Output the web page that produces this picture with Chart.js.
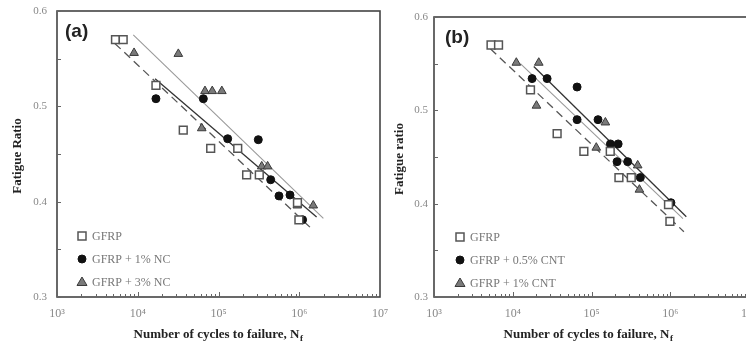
<!DOCTYPE html>
<html>
<head>
<meta charset="utf-8">
<script src="https://cdn.jsdelivr.net/npm/chart.js@4.4.0/dist/chart.umd.min.js"></script>
<style>
  html, body { margin: 0; padding: 0; background: #fff; width: 746px; height: 346px; overflow: hidden; }
  .panel { position: absolute; top: 0; }
</style>
</head>
<body>
<canvas id="chart-a" class="panel" width="390" height="346" style="left:0;width:390px;height:346px"></canvas>
<canvas id="chart-b" class="panel" width="380" height="346" style="left:380px;width:380px;height:346px"></canvas>
<script>
// axis ticks
const X_TICKS = [1e3, 1e4, 1e5, 1e6, 1e7];
const X_TICK_LABELS = ['10³', '10⁴', '10⁵', '10⁶', '10⁷'];
const Y_TICKS = [0.3, 0.4, 0.5, 0.6];

// GFRP (same specimens in both panels)
const GFRP_N = [5300, 6600, 16800, 36600, 80000, 173000, 223000, 320000, 950000, 990000];
const GFRP_R = [0.570, 0.570, 0.522, 0.475, 0.456, 0.456, 0.428, 0.428, 0.399, 0.381];
const GFRP_FIT_N = [5200, 1490000];
const GFRP_FIT_R = [0.566, 0.370];

// panel (a): nanoclay
const NC1_N = [16800, 64900, 130000, 311000, 443000, 561000, 768000, 1100000];
const NC1_R = [0.508, 0.508, 0.466, 0.465, 0.423, 0.406, 0.407, 0.381];
const NC3_N = [9000, 31800, 62000, 68000, 83700, 110000, 343000, 406000, 946000, 1490000];
const NC3_R = [0.556, 0.555, 0.477, 0.516, 0.516, 0.516, 0.437, 0.437, 0.396, 0.396];
const NC1_FIT_N = [16400, 1640000];
const NC1_FIT_R = [0.529, 0.384];
const NC3_FIT_N = [8800, 1990000];
const NC3_FIT_R = [0.575, 0.3825];

// panel (b): carbon nanotubes
const CNT05_N = [17600, 27300, 65600, 65600, 121000, 174000, 218000, 211000, 288000, 417000, 1020000];
const CNT05_R = [0.534, 0.534, 0.525, 0.490, 0.490, 0.464, 0.464, 0.445, 0.445, 0.428, 0.401];
const CNT1_N = [11100, 21400, 20000, 115000, 150000, 386000, 406000];
const CNT1_R = [0.551, 0.551, 0.505, 0.460, 0.487, 0.441, 0.415];
const CNT05_FIT_N = [18500, 1600000];
const CNT05_FIT_R = [0.547, 0.386];
const CNT1_FIT_N = [12500, 1450000];
const CNT1_FIT_R = [0.550, 0.384];

const LEGEND_A = ['GFRP', 'GFRP + 1% NC', 'GFRP + 3% NC'];
const LEGEND_B = ['GFRP', 'GFRP + 0.5% CNT', 'GFRP + 1% CNT'];

const SERIF = '"Liberation Serif", "DejaVu Serif", serif';
const STYLE = {
  square:   { pointStyle: 'rect',     pointRadius: 5.5, backgroundColor: '#ffffff', borderColor: '#555', borderWidth: 1.5 },
  circle:   { pointStyle: 'circle',   pointRadius: 4,   backgroundColor: '#111111', borderColor: '#111', borderWidth: 1 },
  triangle: { pointStyle: 'triangle', pointRadius: 5,   backgroundColor: '#7a7a7a', borderColor: '#3a3a3a', borderWidth: 1 }
};

const zip = (xs, ys) => xs.map((x, i) => ({ x, y: ys[i] }));

function pts(xs, ys, kind) {
  const s = STYLE[kind];
  return { data: zip(xs, ys), showLine: false, ...s, pointHoverRadius: s.pointRadius };
}
function fit(xs, ys, color, dash, width) {
  return { data: zip(xs, ys), showLine: true, borderColor: color, borderWidth: width || 1.3,
           borderDash: dash || [], pointRadius: 0, fill: false };
}

function drawMarker(ctx, kind, x, y) {
  const s = STYLE[kind];
  ctx.save();
  ctx.fillStyle = s.backgroundColor; ctx.strokeStyle = s.borderColor; ctx.lineWidth = s.borderWidth;
  ctx.beginPath();
  if (kind === 'square') { const h = 4; ctx.rect(x - h, y - h, 2 * h, 2 * h); }
  else if (kind === 'circle') { ctx.arc(x, y, 4, 0, Math.PI * 2); }
  else { ctx.moveTo(x, y - 5); ctx.lineTo(x + 5, y + 3.5); ctx.lineTo(x - 5, y + 3.5); ctx.closePath(); }
  ctx.fill(); ctx.stroke();
  ctx.restore();
}

function panelPlugin(p) {
  return {
    id: 'panelDecor',
    afterDraw(chart) {
      const { ctx, chartArea: a, scales: { x, y } } = chart;
      ctx.save();
      // frame
      ctx.strokeStyle = '#444'; ctx.lineWidth = 1.6;
      ctx.strokeRect(a.left, a.top, a.right - a.left, a.bottom - a.top);
      // inward ticks
      ctx.strokeStyle = '#666'; ctx.lineWidth = 1;
      ctx.beginPath();
      for (let v = 0.3; v <= 0.6001; v += 0.05) {
        const py = Math.round(y.getPixelForValue(v)) + 0.5;
        ctx.moveTo(a.left, py); ctx.lineTo(a.left + 4, py);
      }
      for (let d = 3; d < 7; d++) {
        for (let m = 1; m <= 9; m++) {
          const px = Math.round(x.getPixelForValue(m * Math.pow(10, d))) + 0.5;
          const len = m === 1 ? 5 : 3;
          ctx.moveTo(px, a.bottom); ctx.lineTo(px, a.bottom - len);
        }
      }
      ctx.stroke();
      // panel label
      ctx.fillStyle = '#222';
      ctx.font = 'bold 19px "Liberation Sans", Arial, sans-serif';
      ctx.textBaseline = 'middle'; ctx.textAlign = 'left';
      ctx.fillText(p.tag, p.tagX, p.tagY);
      // legend
      ctx.font = '12px ' + SERIF;
      ['square', 'circle', 'triangle'].forEach((k, i) => {
        const ly = p.legY + i * 23;
        drawMarker(ctx, k, p.legX, ly);
        ctx.fillStyle = '#777';
        ctx.fillText(p.legend[i], p.legX + 10, ly + 1);
      });
      // y title
      ctx.save();
      ctx.translate(p.yTitleX, (a.top + a.bottom) / 2 + 2);
      ctx.rotate(-Math.PI / 2);
      ctx.textAlign = 'center';
      ctx.font = 'bold 13px ' + SERIF;
      ctx.fillStyle = '#222';
      ctx.fillText(p.yTitle, 0, 0);
      ctx.restore();
      // x title with subscript
      const main = 'Number of cycles to failure, N';
      ctx.font = 'bold 13px ' + SERIF;
      const w1 = ctx.measureText(main).width;
      ctx.font = 'bold 9px ' + SERIF;
      const w2 = ctx.measureText('f').width;
      const sx = p.xTitleX - (w1 + w2) / 2;
      ctx.textAlign = 'left'; ctx.textBaseline = 'alphabetic';
      ctx.fillStyle = '#222';
      ctx.font = 'bold 13px ' + SERIF;
      ctx.fillText(main, sx, 338);
      ctx.font = 'bold 9px ' + SERIF;
      ctx.fillText('f', sx + w1 + 0.5, 341);
      ctx.restore();
    }
  };
}

function makePanel(id, datasets, p) {
  new Chart(document.getElementById(id), {
    type: 'scatter',
    data: { datasets },
    options: {
      responsive: false,
      animation: false,
      devicePixelRatio: 1,
      layout: { padding: { top: p.top, right: p.right, left: 0, bottom: 0 } },
      plugins: { legend: { display: false }, tooltip: { enabled: false } },
      scales: {
        x: {
          type: 'logarithmic', min: 1e3, max: 1e7,
          grid: { display: false, drawTicks: false }, border: { display: false },
          afterBuildTicks: s => { s.ticks = X_TICKS.map(v => ({ value: v })); },
          afterFit: s => { s.height = 49; s.paddingLeft = 0; s.paddingRight = 0; },
          ticks: {
            autoSkip: false, maxRotation: 0, padding: 10, color: '#888',
            font: { family: SERIF, size: 12 },
            callback: (v, i) => X_TICK_LABELS[i]
          }
        },
        y: {
          min: 0.3, max: 0.6,
          grid: { display: false, drawTicks: false }, border: { display: false },
          afterBuildTicks: s => { s.ticks = Y_TICKS.map(v => ({ value: v })); },
          afterFit: s => { s.width = p.yWidth; s.paddingTop = 0; s.paddingBottom = 0; },
          ticks: {
            padding: p.yPad, color: '#888',
            font: { family: SERIF, size: 11 },
            callback: v => v.toFixed(1)
          }
        }
      }
    },
    plugins: [panelPlugin(p)]
  });
}

makePanel('chart-a', [
  pts(GFRP_N, GFRP_R, 'square'),
  pts(NC1_N, NC1_R, 'circle'),
  pts(NC3_N, NC3_R, 'triangle'),
  fit(GFRP_FIT_N, GFRP_FIT_R, '#555', [8, 5]),
  fit(NC1_FIT_N, NC1_FIT_R, '#333'),
  fit(NC3_FIT_N, NC3_FIT_R, '#9a9a9a', [], 1.1)
], {
  top: 11, right: 10, yWidth: 57, yPad: 10,
  tag: '(a)', tagX: 65, tagY: 32,
  legend: LEGEND_A, legX: 82, legY: 236,
  yTitle: 'Fatigue Ratio', yTitleX: 18, xTitleX: 218
});

makePanel('chart-b', [
  pts(GFRP_N, GFRP_R, 'square'),
  pts(CNT05_N, CNT05_R, 'circle'),
  pts(CNT1_N, CNT1_R, 'triangle'),
  fit(GFRP_FIT_N, GFRP_FIT_R, '#555', [8, 5]),
  fit(CNT05_FIT_N, CNT05_FIT_R, '#333'),
  fit(CNT1_FIT_N, CNT1_FIT_R, '#9a9a9a', [], 1.1)
], {
  top: 17, right: 11, yWidth: 54, yPad: 6,
  tag: '(b)', tagX: 65, tagY: 38,
  legend: LEGEND_B, legX: 80, legY: 237,
  yTitle: 'Fatigue ratio', yTitleX: 20, xTitleX: 208
});
</script>
</body>
</html>
